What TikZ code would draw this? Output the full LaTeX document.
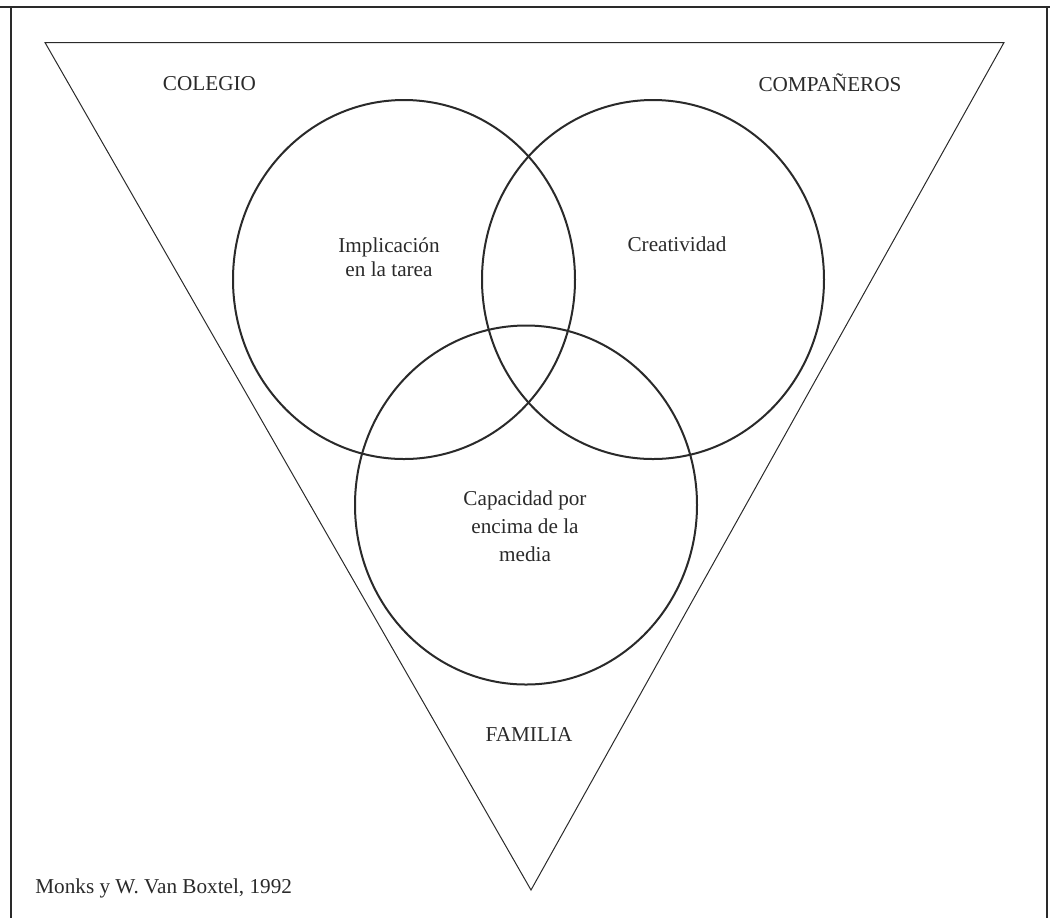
\documentclass[tikz,border=0pt]{standalone}
\usepackage{fontspec}
\setmainfont{Liberation Serif}
\usetikzlibrary{shapes.geometric}
\definecolor{ink}{HTML}{2A2A2A}
\begin{document}
\begin{tikzpicture}[x=0.5pt,y=-0.5pt,
  ring/.style={draw=ink, line width=1pt, ellipse, inner sep=0pt, minimum width=171pt, minimum height=179.5pt},
  lbl/.style={text=ink, font=\fontsize{10.6}{12}\selectfont, align=center, inner sep=0pt},
  frame/.style={draw=ink, line width=0.7pt},
  tri/.style={draw=ink, line width=0.5pt, line join=miter}]
\useasboundingbox (0,0) rectangle (1050,918);
% frame
\coordinate (f1) at (0,7);
\coordinate (f2) at (1050,7);
\coordinate (l1) at (11,8);
\coordinate (l2) at (11,918);
\coordinate (r1) at (1047,7);
\coordinate (r2) at (1047,918);
\draw[frame] (f1) -- (f2);
\draw[frame] (l1) -- (l2);
\draw[frame] (r1) -- (r2);
% triangle
\coordinate (tA) at (45,42.5);
\coordinate (tB) at (1004,42.5);
\coordinate (tC) at (531,890);
\draw[tri] (tA) -- (tB) -- (tC) -- cycle;
% circles
\node[ring] (cL) at (404,279.5) {};
\node[ring] (cR) at (653,279.5) {};
\node[ring] (cB) at (526,505) {};
% labels
\node[lbl] (colegio) at (209.5,84) {COLEGIO};
\node[lbl] (comp) at (830,83) {COMPAÑEROS};
\node[lbl] (impl) at (389,257) {Implicación\\en la tarea};
\node[lbl, anchor=base] (crea) at (677,251) {Creatividad};
\node[lbl, font=\fontsize{10.6}{14}\selectfont] (capa) at (525,526) {Capacidad por\\encima de la\\media};
\node[lbl, anchor=base] (fam) at (529,741) {FAMILIA};
\node[lbl, anchor=base west] (monks) at (35,893) {Monks y W. Van Boxtel, 1992};
\end{tikzpicture}
\end{document}
